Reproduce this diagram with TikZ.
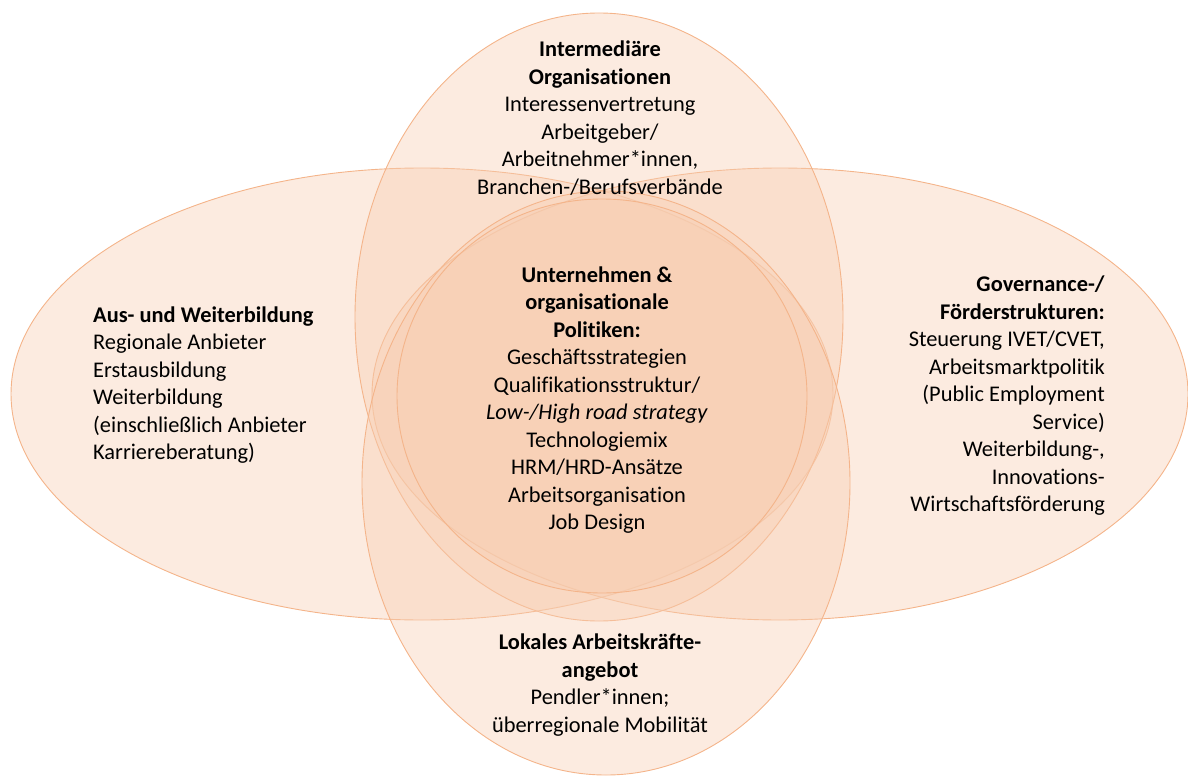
\documentclass[tikz,border=0pt]{standalone}
\usepackage{fontspec}
\setmainfont{Carlito}[RawFeature={-liga;-clig;-calt;-dlig}]
\definecolor{edgec}{RGB}{244,180,138}
\definecolor{fillc}{RGB}{247,205,177}
\tikzset{
  venn/.style={draw=edgec, line width=0.9pt, fill=fillc, fill opacity=0.4},
  txt/.style={font=\fontsize{22.4}{27.5}\selectfont, text=black, inner sep=0pt},
}
\begin{document}
\begin{tikzpicture}[x=1pt,y=-1pt]
\useasboundingbox (0,0) rectangle (1188,778);
\path[venn] (422,394) ellipse [x radius=411pt, y radius=226pt];
\path[venn] (780,394) ellipse [x radius=408pt, y radius=226pt];
\path[venn] (599,317) ellipse [x radius=244pt, y radius=304pt];
\path[venn] (606,483) ellipse [x radius=244pt, y radius=292pt];
\path[venn] (602,396) ellipse [x radius=205pt, y radius=197pt];

\node[txt, align=center] (top) at (600,118) {\textbf{Intermediäre}\\\textbf{Organisationen}\\Interessenvertretung\\Arbeitgeber/\\Arbeitnehmer*innen,\\Branchen-/Berufsverbände};
\node[txt, align=left, anchor=west] (left) at (93,385) {\textbf{Aus- und Weiterbildung}\\Regionale Anbieter\\Erstausbildung\\Weiterbildung\\(einschließlich Anbieter\\Karriereberatung)};
\node[txt, align=right, anchor=east] (right) at (1105,396) {\textbf{Governance-/}\\\textbf{Förderstrukturen:}\\Steuerung IVET/CVET,\\Arbeitsmarktpolitik\\(Public Employment\\Service)\\Weiterbildung-,\\Innovations-\\Wirtschaftsförderung};
\node[txt, align=center] (center) at (597,400) {\textbf{Unternehmen \&}\\\textbf{organisationale}\\\textbf{Politiken:}\\Geschäftsstrategien\\Qualifikationsstruktur/\\\textit{Low-/High road strategy}\\Technologiemix\\HRM/HRD-Ansätze\\Arbeitsorganisation\\Job Design};
\node[txt, align=center] (bottom) at (600,685) {\textbf{Lokales Arbeitskräfte-}\\\textbf{angebot}\\Pendler*innen;\\überregionale Mobilität};
\end{tikzpicture}
\end{document}
